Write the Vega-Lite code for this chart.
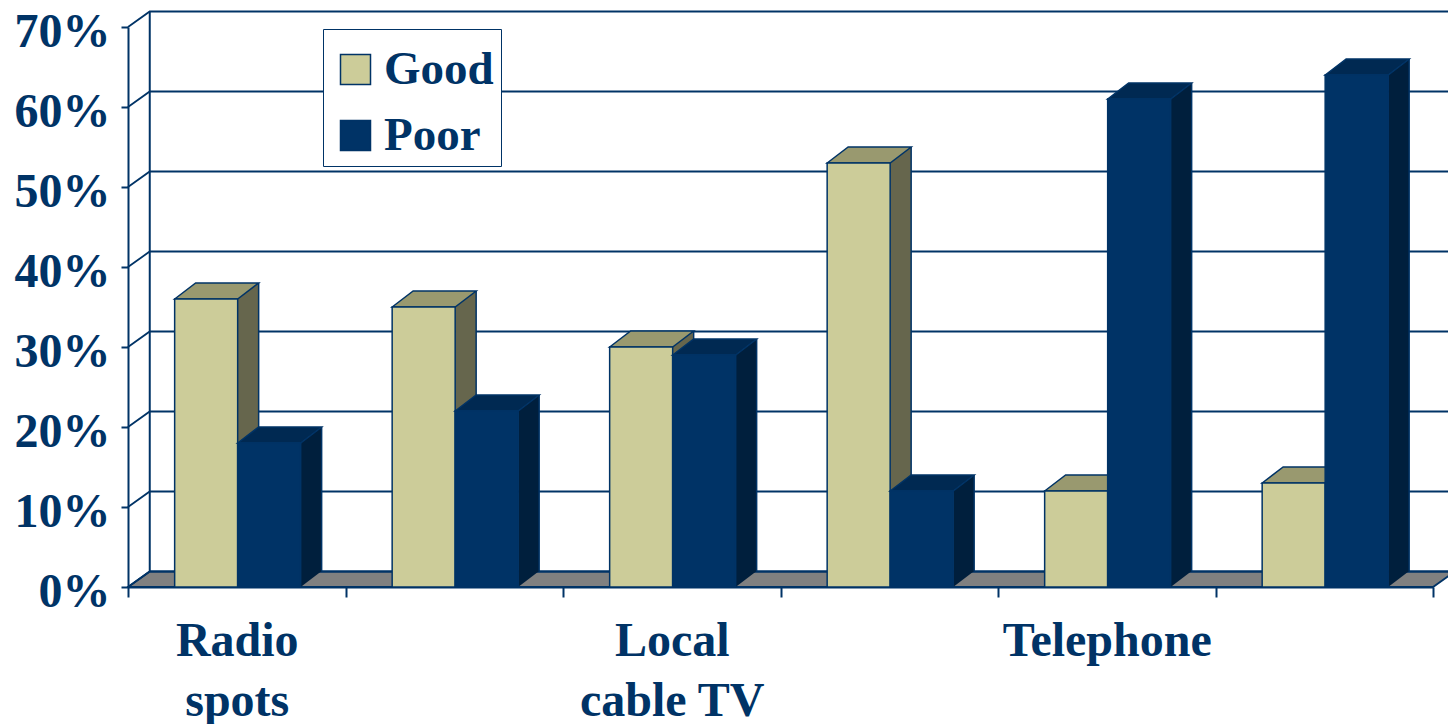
{
"$schema":"https://vega.github.io/schema/vega-lite/v6.json",
"width":1305,"height":560,
"autosize":{"type":"none"},
"padding":{"left":128,"top":27,"right":15,"bottom":137},
"background":"white",
"config":{"view":{"stroke":null}},
"datasets":{
"bars":[
{"channel":"Radio spots","rating":"Good","share":0.36},
{"channel":"Radio spots","rating":"Poor","share":0.18},
{"channel":" ","rating":"Good","share":0.35},
{"channel":" ","rating":"Poor","share":0.22},
{"channel":"Local cable TV","rating":"Good","share":0.30},
{"channel":"Local cable TV","rating":"Poor","share":0.29},
{"channel":"  ","rating":"Good","share":0.53},
{"channel":"  ","rating":"Poor","share":0.12},
{"channel":"Telephone","rating":"Good","share":0.12},
{"channel":"Telephone","rating":"Poor","share":0.61},
{"channel":"   ","rating":"Good","share":0.13},
{"channel":"   ","rating":"Poor","share":0.64}],
"grid":[{"tick":0},{"tick":0.1},{"tick":0.2},{"tick":0.3},{"tick":0.4},{"tick":0.5},{"tick":0.6},{"tick":0.7}],
"base":[{"tick":0}]
},
"layer":[
{"data":{"name":"base"},
 "encoding":{"x":{"datum":"Radio spots","type":"nominal"},"y":{"field":"tick","type":"quantitative"}},
 "layer":[
  {"mark":{"type":"point","shape":"M-108.75,0 L-87,-15.5 L1218.25,-15.5 L1196.25,0 Z","size":4,"filled":true,"fill":"#808080","stroke":"#003366","strokeWidth":1.8,"opacity":1}},
  {"mark":{"type":"point","shape":"M-87,-15.5 L-87,-575.5","size":4,"filled":false,"stroke":"#003366","strokeWidth":2,"opacity":1}}
 ]},
{"data":{"name":"grid"},
 "mark":{"type":"point","shape":"M-108.75,0 L-87,-15.5 L1218.25,-15.5","size":4,"filled":false,"stroke":"#003366","strokeWidth":1.8,"opacity":1},
 "encoding":{"x":{"datum":"Radio spots","type":"nominal"},"y":{"field":"tick","type":"quantitative"}}},
{"data":{"name":"bars"},
 "transform":[{"filter":"datum.rating === 'Good'"}],
 "encoding":{
  "x":{"field":"channel","type":"nominal"},
  "xOffset":{"field":"rating","type":"nominal"},
  "y":{"field":"share","type":"quantitative"}},
 "layer":[
  {"mark":{"type":"bar","width":21,"y2Offset":-16,"fill":"#66664D","opacity":1},"encoding":{"xOffset":{"value":120.15},"y2":{"datum":0}}},
  {"mark":{"type":"point","shape":"M31.5,0 L52.5,-16 L52.5,0 Z","size":4,"filled":true,"fill":"#66664D","opacity":1}},
  {"mark":{"type":"point","shape":"M31.5,0 L52.5,-16 L31.5,-16 Z","size":4,"filled":true,"fill":"#66664D","opacity":1},"encoding":{"y":{"datum":0}}},
  {"mark":{"type":"bar","width":1.5,"yOffset":-16,"y2Offset":-16,"fill":"#003366","opacity":1},"encoding":{"xOffset":{"value":130.65},"y2":{"datum":0}}},
  {"mark":{"type":"point","shape":"M-31.5,0 L-10.5,-16 L52.5,-16 L31.5,0 Z","size":4,"filled":true,"fill":"#99996F","stroke":"#003366","strokeWidth":1.5,"opacity":1}}
 ]},
{"data":{"name":"bars"},
 "encoding":{
  "x":{"field":"channel","type":"nominal","sort":null,
   "scale":{"domain":["Radio spots"," ","Local cable TV","  ","Telephone","   "],"paddingInner":0,"paddingOuter":0,"align":0.5},
   "axis":{"title":null,"labelAngle":0,"labelAlign":"center","labelLimit":0,"domainColor":"#003366","domainWidth":2,"tickColor":"#003366","tickWidth":2,"tickSize":10,"tickBand":"extent","labelFont":"Liberation Serif","labelFontWeight":"bold","labelFontSize":48,"labelColor":"#003366","labelPadding":20,"labelLineHeight":60,"labelBaseline":"top","labelOverlap":false,
    "labelExpr":"datum.value === 'Radio spots' ? ['Radio','spots'] : datum.value === 'Local cable TV' ? ['Local','cable TV'] : datum.value"}},
  "xOffset":{"field":"rating","type":"nominal","scale":{"domain":["Good","Poor"],"paddingInner":0,"paddingOuter":0.726,"align":0.51}},
  "y":{"field":"share","type":"quantitative",
   "scale":{"domain":[0,0.7],"nice":false,"zero":true},
   "axis":{"title":null,"values":[0,0.1,0.2,0.3,0.4,0.5,0.6,0.7],"format":".0%","grid":false,"domainColor":"#003366","domainWidth":2,"tickColor":"#003366","tickWidth":2,"tickSize":7,"labelFont":"Liberation Serif","labelFontWeight":"bold","labelFontSize":48,"labelColor":"#003366","labelPadding":11,"labelOffset":5,"labelOverlap":false,"labelFlush":false}}},
 "layer":[
  {"transform":[{"filter":"datum.rating === 'Good'"}],
   "mark":{"type":"bar","stroke":"#003366","strokeWidth":1.5,"opacity":1},
   "encoding":{"fill":{"field":"rating","type":"nominal",
     "scale":{"domain":["Good","Poor"],"range":["#CCCC99","#003366"]},
     "legend":{"title":" ","titleFontSize":10,"titlePadding":0,"orient":"none","legendX":195,"legendY":2,"fillColor":"white","strokeColor":"#003366","padding":7,"symbolOffset":2,"symbolType":"square","symbolSize":900,"symbolStrokeColor":"#003366","symbolStrokeWidth":1.5,"symbolOpacity":1,"labelFont":"Liberation Serif","labelFontWeight":"bold","labelFontSize":47,"labelColor":"#003366","labelOffset":5,"rowPadding":18}}}},
  {"transform":[{"filter":"datum.rating === 'Poor'"}],
   "layer":[
    {"mark":{"type":"bar","width":21,"y2Offset":-16,"fill":"#001F3D","opacity":1},"encoding":{"xOffset":{"value":183.15},"y2":{"datum":0}}},
    {"mark":{"type":"point","shape":"M31.5,0 L52.5,-16 L52.5,0 Z","size":4,"filled":true,"fill":"#001F3D","opacity":1}},
    {"mark":{"type":"point","shape":"M31.5,0 L52.5,-16 L31.5,-16 Z","size":4,"filled":true,"fill":"#001F3D","opacity":1},"encoding":{"y":{"datum":0}}},
    {"mark":{"type":"bar","width":1.5,"yOffset":-16,"y2Offset":-16,"fill":"#003366","opacity":1},"encoding":{"xOffset":{"value":193.65},"y2":{"datum":0}}},
    {"mark":{"type":"point","shape":"M-31.5,0 L-10.5,-16 L52.5,-16 L31.5,0 Z","size":4,"filled":true,"fill":"#002952","stroke":"#003366","strokeWidth":1.5,"opacity":1}},
    {"mark":{"type":"bar","stroke":"#003366","strokeWidth":1.5,"opacity":1},
     "encoding":{"fill":{"field":"rating","type":"nominal"}}}
   ]}
 ]}
]
}
